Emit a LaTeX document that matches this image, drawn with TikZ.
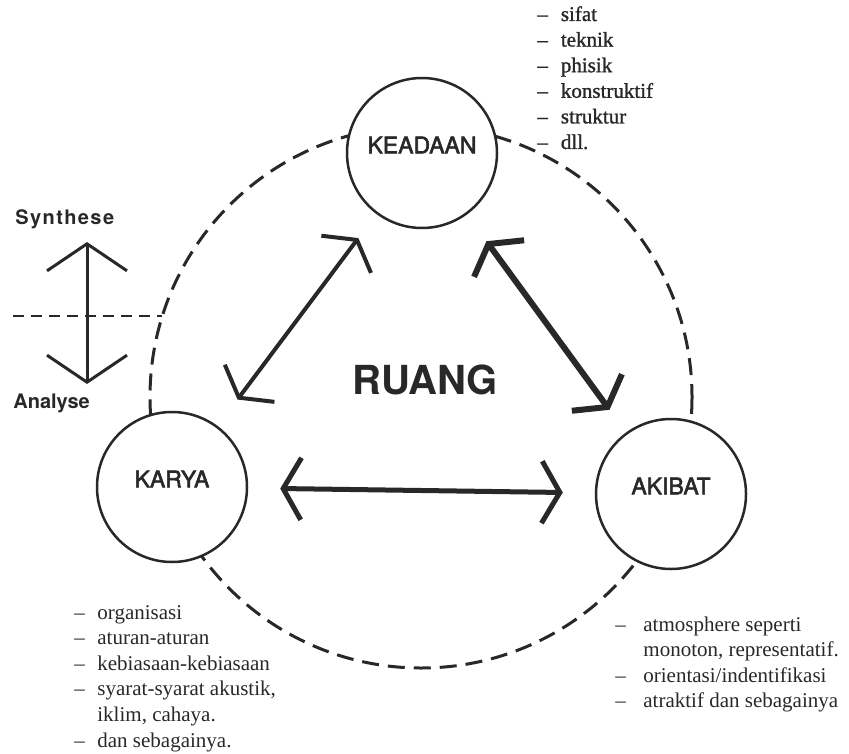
\documentclass[tikz,border=0pt]{standalone}
\usepackage{fontspec}
\setmainfont{Liberation Serif}
\setsansfont{TeX Gyre Heros}
\newfontfamily\factorfont{TeX Gyre Heros}[FakeBold=2.5]
\newfontfamily\heavyserif{Liberation Serif}[Ligatures=TeX, FakeBold=1.2]
\usetikzlibrary{arrows.meta}
\definecolor{ink}{RGB}{40,40,40}
\tikzset{
  factor/.style={circle, draw=ink, line width=1.25pt, fill=white, minimum size=75pt, inner sep=0pt,
    text=ink, text depth=8pt, font=\factorfont\fontsize{11.5}{14}\selectfont},
  relation/.style={draw=ink, >={Straight Barb[length=9pt,width=31pt]}, <->},
  ring/.style={draw=ink, line width=1.5pt, dash pattern=on 8.5pt off 4.5pt},
  itemlist/.style={anchor=base west, inner sep=0pt, text=ink, font=\fontsize{10.5}{12.8}\selectfont},
  scalelabel/.style={anchor=base west, inner sep=0pt, text=ink, font=\sffamily\bfseries\fontsize{10}{12}\selectfont}
}
\begin{document}
\begin{tikzpicture}[x=0.5pt,y=-0.5pt]
\useasboundingbox (0,0) rectangle (849,753);

\draw[ring] (421,397) circle[radius=271];

\node[factor] (keadaan) at (422,153) {KEADAAN};
\node[factor] (karya) at (172,487) {KARYA};
\node[factor] (akibat) at (671,494) {AKIBAT};
\node[text=ink, font=\sffamily\bfseries\fontsize{20}{24}\selectfont] (ruang) at (425,380) {RUANG};

\draw[relation, line width=2pt, shorten <=16.5pt, shorten >=15pt] (karya) -- (keadaan);
\draw[relation, line width=3pt, shorten <=16.5pt, shorten >=14pt] (keadaan) -- (akibat);
\draw[relation, line width=2.5pt, shorten <=16pt, shorten >=16pt] (karya) -- (akibat);

% synthese / analyse
\node[scalelabel] (synthese) at (15,225) {\addfontfeature{LetterSpace=7}Synthese};
\node[scalelabel] (analyse) at (13,408) {Analyse};
\coordinate (synthtip) at (87,242);
\coordinate (analtip) at (87,384);
\draw[draw=ink, line width=1.5pt, >={Straight Barb[length=13.5pt,width=40pt]}, <->] (analtip) -- (synthtip);
\coordinate (cutl) at (13,316);
\coordinate (cutr) at (162,316);
\draw[draw=ink, line width=1pt, dash pattern=on 5.5pt off 3.5pt] (cutl) -- (cutr);

% lists
\node[itemlist, font=\heavyserif\fontsize{10.5}{12.8}\selectfont] (keadaanlist) at (537,21) {%
  \begin{tabular}[t]{@{}l@{\hspace{6.5pt}}l@{}}
  -- & sifat\\ -- & teknik\\ -- & phisik\\ -- & konstruktif\\ -- & struktur\\ -- & dll.
  \end{tabular}};
\node[itemlist] (karyalist) at (74,619) {%
  \begin{tabular}[t]{@{}l@{\hspace{6.25pt}}l@{}}
  -- & organisasi\\ -- & aturan-aturan\\ -- & kebiasaan-kebiasaan\\
  -- & syarat-syarat akustik,\\ & iklim, cahaya.\\ -- & dan sebagainya.
  \end{tabular}};
\node[itemlist] (akibatlist) at (615,631) {%
  \begin{tabular}[t]{@{}l@{\hspace{8.75pt}}l@{}}
  -- & atmosphere seperti\\ & monoton, representatif.\\
  -- & orientasi/indentifikasi\\ -- & atraktif dan sebagainya
  \end{tabular}};
\end{tikzpicture}
\end{document}
